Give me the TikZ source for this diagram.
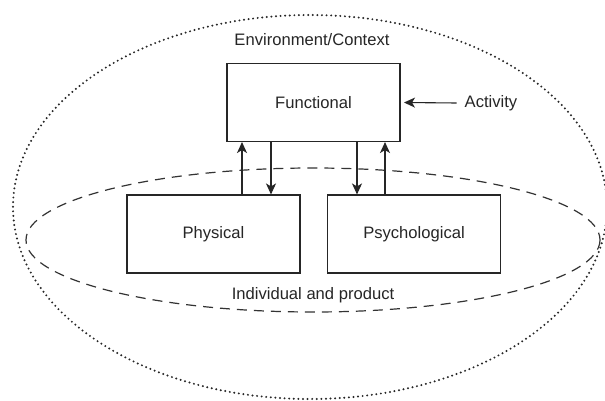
\documentclass[tikz,border=0pt]{standalone}
\usepackage{fontspec}
\setmainfont{Liberation Sans}
\usetikzlibrary{arrows.meta}
\begin{document}
\begin{tikzpicture}[x=1pt,y=-1pt,
  box/.style={draw=black!85,line width=1.1pt,minimum width=173pt,minimum height=78pt,inner sep=0pt,text=black!85,font=\fontsize{16.6}{19}\selectfont},
  lbl/.style={inner sep=0pt,text=black!85,font=\fontsize{16.6}{19}\selectfont},
  arr/.style={draw=black!85,line width=1.1pt,-{Stealth[length=11pt,width=10pt,inset=3pt]}},
  envline/.style={draw=black!85,line width=2.2pt,dash pattern=on 0pt off 4.6pt,line cap=round},
  indline/.style={draw=black!80,line width=1.2pt,dash pattern=on 10pt off 7pt}]
\useasboundingbox (0,0) rectangle (605,401);
\fill[white] (0,0) rectangle (605,401);
% outer dotted ellipse
\path[envline] (310,207) ellipse [x radius=297, y radius=192];
% inner dashed ellipse
\path[indline] (313,240) ellipse [x radius=287, y radius=72];
% boxes
\node[box] (func) at (313.5,102.5) {Functional};
\node[box] (phys) at (213.5,234) {Physical};
\node[box] (psy) at (414,234) {Psychological};
% labels
\node[lbl] (env) at (312,40) {Environment/Context};
\node[lbl] (ind) at (313,295) {Individual and product};
\node[lbl] (act) at (491,103) {Activity};
% connectors
\draw[arr] (phys.north -| 242,0) -- (func.south -| 242,0);
\draw[arr] (func.south -| 271,0) -- (phys.north -| 271,0);
\draw[arr] (func.south -| 357,0) -- (psy.north -| 357,0);
\draw[arr] (psy.north -| 385,0) -- (func.south -| 385,0);
\draw[arr] (act.west) ++(-8,0) coordinate (actstart) -- (func.east -| 404,0) ;
\end{tikzpicture}
\end{document}
